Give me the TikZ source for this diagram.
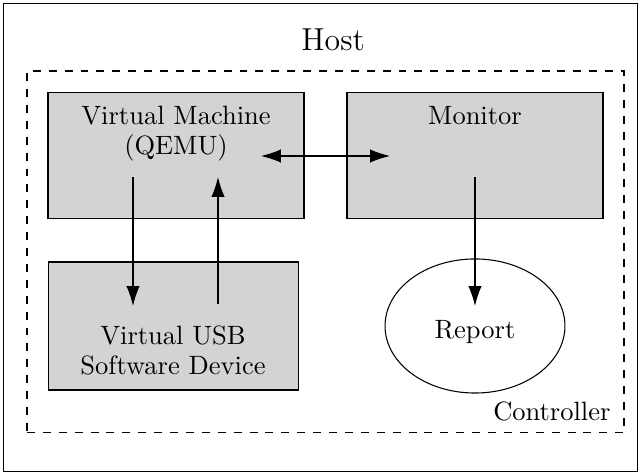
\documentclass[tikz,border=0pt]{standalone}
\usetikzlibrary{arrows.meta,shapes.geometric}
\definecolor{boxgray}{RGB}{211,211,211}
\begin{document}
\begin{tikzpicture}[x=0.3774pt,y=-0.3774pt,
  box/.style={draw, fill=boxgray, line width=0.4pt, inner sep=0pt},
  arr/.style={-{Latex[length=7.5pt,width=5pt]}, line width=0.4pt},
  darr/.style={{Latex[length=7.5pt,width=5pt]}-{Latex[length=7.5pt,width=5pt]}, line width=0.4pt},
  lbl/.style={inner sep=0pt, align=center, font=\fontsize{10}{11.6}\selectfont}]
\useasboundingbox (0,0) rectangle (641,475);
\node[draw, line width=0.4pt, inner sep=0pt, minimum width=239.6pt, minimum height=176.9pt] (hostbox) at (320.5,237.5) {};
\node[lbl, anchor=base, font=\large] (host) at (333,51) {Host};
\node[draw, dashed, line width=0.4pt, inner sep=0pt, minimum width=225.3pt, minimum height=136.6pt] (ctrlbox) at (325.5,252) {};
\node[lbl, anchor=base east] (ctrl) at (611,421) {Controller};
\node[box, minimum width=96.6pt, minimum height=47.9pt] (vmbox) at (176,155.5) {};
\node[lbl, anchor=base] (vm) at (176,155) {Virtual Machine\\(QEMU)};
\node[box, minimum width=96.6pt, minimum height=47.9pt] (monbox) at (475,155.5) {};
\node[lbl, anchor=base] (mon) at (475,125) {Monitor};
\node[box, minimum width=94.7pt, minimum height=48.3pt] (usbbox) at (173.5,326) {};
\node[lbl, anchor=base] (usb) at (173,375) {Virtual USB\\Software Device};
\node[draw, ellipse, line width=0.4pt, inner sep=0pt, minimum width=67.9pt, minimum height=50.6pt] (rep) at (475,326) {};
\node[lbl, anchor=base] (reptxt) at (475,339) {Report};
\coordinate (vmA) at (133,177);
\coordinate (usbA) at (133,306);
\coordinate (usbB) at (218,304);
\coordinate (vmB) at (218,177);
\coordinate (vmC) at (261,156);
\coordinate (monC) at (390,156);
\coordinate (monD) at (475,177);
\coordinate (repD) at (475,306);
\draw[arr] (vmA) -- (usbA);
\draw[arr] (usbB) -- (vmB);
\draw[darr] (vmC) -- (monC);
\draw[arr] (monD) -- (repD);
\end{tikzpicture}
\end{document}
